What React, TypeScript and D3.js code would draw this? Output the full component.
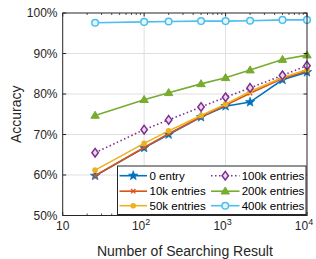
import React from "react";
import * as d3 from "d3";

const xValues = [25, 100, 200, 500, 1000, 2000, 5000, 10000];
const entry0 = [59.8, 66.7, 70.0, 74.3, 77.0, 78.0, 83.5, 85.4];
const entries10k = [59.8, 66.8, 70.2, 74.4, 77.2, 80.2, 83.8, 85.7];
const entries50k = [61.2, 67.8, 70.9, 74.7, 77.5, 80.6, 84.1, 86.0];
const entries100k = [65.5, 71.2, 73.6, 76.8, 79.2, 81.5, 84.6, 87.0];
const entries200k = [74.7, 78.6, 80.3, 82.5, 84.0, 85.9, 88.5, 89.6];
const entries400k = [97.6, 97.8, 97.9, 98.0, 98.0, 98.1, 98.3, 98.3];
const seriesNames = ["0 entry", "10k entries", "50k entries", "100k entries", "200k entries", "400k entries"];
const yTicks = [50, 60, 70, 80, 90, 100];
const xTicks = [10, 100, 1000, 10000];

const colors = ["#0072BD", "#D95319", "#EDB120", "#7E2F8E", "#77AC30", "#4DBEEE"];
const markers = ["star", "x", "dot", "diamond", "triangle", "circle"];
const dashes = [null, null, null, "1.5,2.5", null, null];
const allSeries = [entry0, entries10k, entries50k, entries100k, entries200k, entries400k];

const W = 316, H = 259;
const L = 62.7, R = 307, T = 13, B = 215.5;
const FONT = "'Liberation Sans', Arial, sans-serif";
const AX = "#262626";

function Marker({ type, x, y, color }: { type: string; x: number; y: number; color: string }) {
  if (type === "star") {
    const pts: string[] = [];
    for (let i = 0; i < 10; i++) {
      const r = i % 2 === 0 ? 5 : 2.1;
      const a = -Math.PI / 2 + (i * Math.PI) / 5;
      pts.push(`${x + r * Math.cos(a)},${y + r * Math.sin(a)}`);
    }
    return <polygon points={pts.join(" ")} fill={color} stroke={color} strokeWidth={0.6} />;
  }
  if (type === "x") {
    const s = 2.2;
    return (
      <path d={`M${x - s},${y - s}L${x + s},${y + s}M${x - s},${y + s}L${x + s},${y - s}`} stroke={color} strokeWidth={1.3} />
    );
  }
  if (type === "dot") return <circle cx={x} cy={y} r={2.8} fill={color} />;
  if (type === "diamond") {
    return (
      <polygon
        points={`${x},${y - 4.3} ${x + 3.2},${y} ${x},${y + 4.3} ${x - 3.2},${y}`}
        fill="#e9d8ee"
        stroke={color}
        strokeWidth={1.5}
      />
    );
  }
  if (type === "triangle") {
    return (
      <polygon
        points={`${x},${y - 4.2} ${x + 4.2},${y + 2.8} ${x - 4.2},${y + 2.8}`}
        fill={color}
        stroke={color}
        strokeWidth={1}
      />
    );
  }
  return <circle cx={x} cy={y} r={3.3} fill="#e6f6fd" stroke={color} strokeWidth={1.5} />;
}

export default function App() {
  const x = d3.scaleLog().domain([10, 10000]).range([L, R]);
  const y = d3.scaleLinear().domain([50, 100]).range([B, T]);
  const line = d3
    .line<number>()
    .x((_, i) => x(xValues[i]))
    .y((d) => y(d));

  const minor: number[] = [];
  for (let e = 1; e < 4; e++) for (let m = 2; m <= 9; m++) minor.push(m * Math.pow(10, e));

  const legendRows = [175.7, 191.2, 205.7];
  const legendCols = [
    { x1: 119.5, x2: 147, tx: 149.5 },
    { x1: 211, x2: 239.5, tx: 241.7 },
  ];

  return (
    <svg width={W} height={H} style={{ position: "absolute", left: 0, top: 0, background: "#fff" }} fontFamily={FONT}>
      <rect x={0} y={0} width={W} height={H} fill="#fff" />
      {/* grid */}
      {xTicks.slice(1, 3).map((t) => (
        <line key={"gx" + t} x1={x(t)} x2={x(t)} y1={T} y2={B} stroke="#dfdfdf" strokeWidth={1} />
      ))}
      {yTicks.slice(1, 5).map((t) => (
        <line key={"gy" + t} x1={L} x2={R} y1={y(t)} y2={y(t)} stroke="#dfdfdf" strokeWidth={1} />
      ))}
      {/* series */}
      {allSeries.map((s, si) => (
        <g key={"s" + si}>
          <path
            d={line(s) || ""}
            fill="none"
            stroke={colors[si]}
            strokeWidth={1.6}
            strokeDasharray={dashes[si] || undefined}
          />
          {s.map((v, i) => (
            <Marker key={i} type={markers[si]} x={x(xValues[i])} y={y(v)} color={colors[si]} />
          ))}
        </g>
      ))}
      {/* axes box */}
      <rect x={L} y={T} width={R - L} height={B - T} fill="none" stroke={AX} strokeWidth={1} />
      {/* ticks */}
      {xTicks.map((t) => (
        <g key={"xt" + t}>
          <line x1={x(t)} x2={x(t)} y1={B} y2={B - 3.5} stroke={AX} />
          <line x1={x(t)} x2={x(t)} y1={T} y2={T + 3.5} stroke={AX} />
        </g>
      ))}
      {minor.map((t) => (
        <g key={"mt" + t}>
          <line x1={x(t)} x2={x(t)} y1={B} y2={B - 2} stroke={AX} strokeWidth={0.8} />
          <line x1={x(t)} x2={x(t)} y1={T} y2={T + 2} stroke={AX} strokeWidth={0.8} />
        </g>
      ))}
      {yTicks.map((t) => (
        <g key={"yt" + t}>
          <line x1={L} x2={L + 3.5} y1={y(t)} y2={y(t)} stroke={AX} />
          <line x1={R} x2={R - 3.5} y1={y(t)} y2={y(t)} stroke={AX} />
          <text x={57.5} y={y(t) + 4.2} textAnchor="end" fontSize={12} fill={AX}>
            {t + "%"}
          </text>
        </g>
      ))}
      {xTicks.map((t, i) =>
        i === 0 ? (
          <text key={"xl" + t} x={x(t)} y={229.5} textAnchor="middle" fontSize={12} fill={AX}>
            10
          </text>
        ) : (
          <text key={"xl" + t} x={x(t) - 3} y={229.5} textAnchor="middle" fontSize={12} fill={AX}>
            10
            <tspan dy={-5} fontSize={9}>
              {String(Math.round(Math.log10(t)))}
            </tspan>
          </text>
        )
      )}
      <text x={(L + R) / 2} y={256} textAnchor="middle" fontSize={14} fill={AX}>
        Number of Searching Result
      </text>
      <text transform={`translate(20.5,${(T + B) / 2}) rotate(-90)`} textAnchor="middle" fontSize={14} fill={AX}>
        Accuracy
      </text>
      {/* legend */}
      <rect x={117.5} y={166} width={188.5} height={48.5} fill="#fff" stroke={AX} strokeWidth={1} />
      {seriesNames.map((name, si) => {
        const col = legendCols[Math.floor(si / 3)];
        const ry = legendRows[si % 3];
        return (
          <g key={"lg" + si}>
            <line
              x1={col.x1}
              x2={col.x2}
              y1={ry}
              y2={ry}
              stroke={colors[si]}
              strokeWidth={1.6}
              strokeDasharray={dashes[si] || undefined}
            />
            <Marker type={markers[si]} x={(col.x1 + col.x2) / 2} y={ry} color={colors[si]} />
            <text x={col.tx} y={ry + 4} fontSize={11.5} fill="#000">
              {name}
            </text>
          </g>
        );
      })}
    </svg>
  );
}
